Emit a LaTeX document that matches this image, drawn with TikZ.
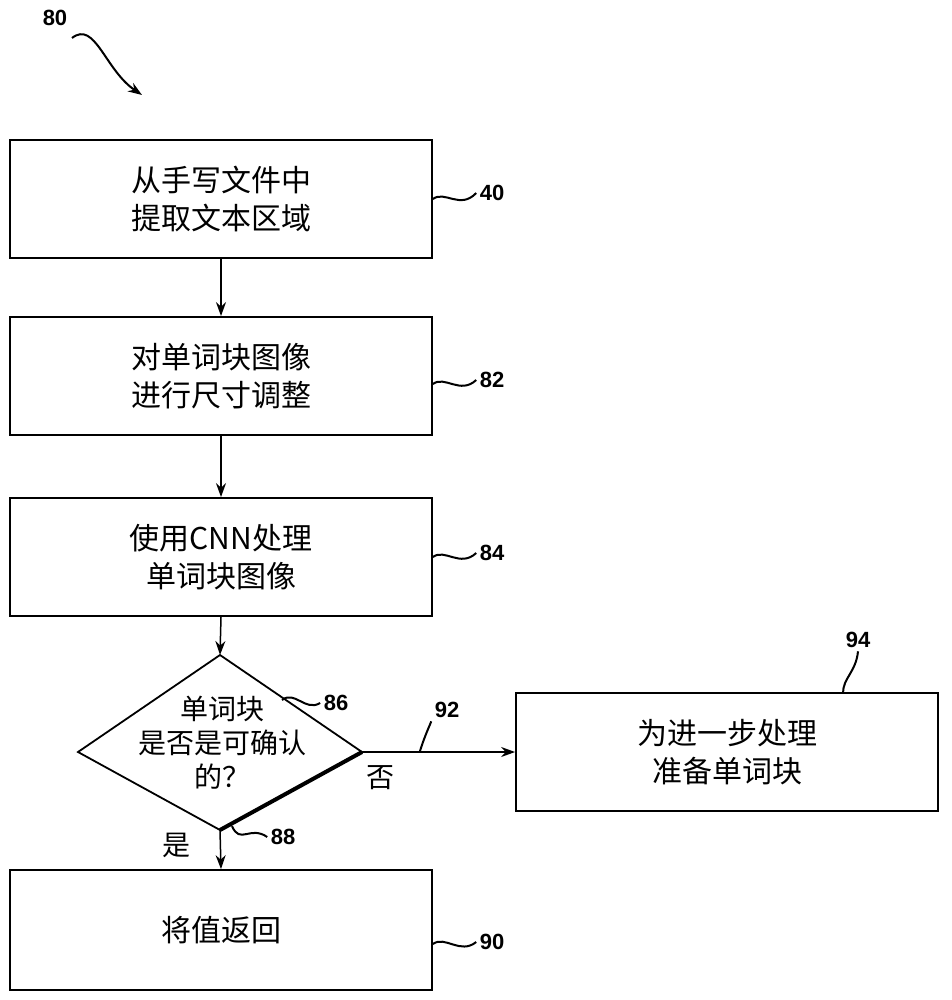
\documentclass[tikz,border=0pt]{standalone}
\usepackage{fontspec}
\setmainfont{Liberation Sans}
\newfontfamily\cjk{Noto Sans CJK SC}
\usetikzlibrary{shapes.geometric,arrows.meta}
\begin{document}
\begin{tikzpicture}[x=1pt,y=-1pt,
  box/.style={draw,line width=1.8pt,minimum width=422pt,minimum height=118pt,align=center,font=\cjk\fontsize{30}{38}\selectfont},
  arr/.style={line width=1.5pt,-{Stealth[length=14pt,width=10pt]}},
  lead/.style={line width=2pt},
  num/.style={font=\bfseries\fontsize{22}{24}\selectfont},
  lab/.style={font=\cjk\fontsize{28}{30}\selectfont}]
\useasboundingbox (0,0) rectangle (951,1000);
\node[box] (b40) at (221,199) {从手写文件中\\提取文本区域};
\node[box] (b82) at (221,376) {对单词块图像\\进行尺寸调整};
\node[box] (b84) at (221,557) {使用CNN处理\\单词块图像};
\coordinate (dt) at (220,655); \coordinate (dl) at (78,752);
\coordinate (dr) at (362,752); \coordinate (db) at (220,830);
\draw[line width=1.8pt] (dt) -- (dr) -- (db) -- (dl) -- cycle;
\draw[line width=4pt] (dr) -- (db);
\node[align=center,font=\cjk\fontsize{28}{34}\selectfont] (d) at (222,743) {单词块\\是否是可确认\\的？};
\node[box] (b94) at (727,752) {为进一步处理\\准备单词块};
\node[box,minimum height=120pt] (b90) at (221,930) {将值返回};
\draw[arr] (b40.south) -- (b82.north);
\draw[arr] (b82.south) -- (b84.north);
\draw[arr] (b84.south) -- (dt);
\draw[arr] (db) -- (b90.north);
\draw[arr] (dr) -- (b94.west);
% labels
\node[num] (n80) at (55,18) {80};
\coordinate (c80) at (72,38);
\coordinate (e80) at (142,95);
\draw[line width=2pt,-{Stealth[length=14pt,width=10pt]}] (c80) .. controls (95,20) and (105,70) .. (e80);
\node[num] (n40) at (492,193) {40};
\draw[lead] (b40.east |- 0,199) .. controls (445,190) and (460,210) .. (n40.west);
\node[num] (n82) at (492,380) {82};
\draw[lead] (b82.east |- 0,384) .. controls (445,375) and (460,395) .. (n82.west);
\node[num] (n84) at (492,553) {84};
\draw[lead] (b84.east |- 0,557) .. controls (445,548) and (460,568) .. (n84.west);
\node[num] (n86) at (336,703) {86};
\coordinate (c86) at (282,700);
\draw[lead] (c86) .. controls (295,690) and (305,712) .. (n86.west);
\node[num] (n92) at (447,710) {92};
\coordinate (c92) at (420,751);
\draw[lead] (c92) .. controls (425,735) and (430,725) .. (n92.south west);
\node[num] (n94) at (858,640) {94};
\coordinate (c94) at (843,693);
\draw[lead] (c94) .. controls (843,678) and (856,672) .. (n94.south);
\node[num] (n88) at (283,837) {88};
\coordinate (c88) at (232,826);
\draw[lead] (c88) .. controls (240,845) and (250,825) .. (n88.west);
\node[num] (n90) at (492,942) {90};
\draw[lead] (b90.east |- 0,944) .. controls (445,935) and (460,955) .. (n90.west);
\node[lab] (no) at (380,778) {否};
\node[lab] (yes) at (176,845) {是};
\end{tikzpicture}
\end{document}
